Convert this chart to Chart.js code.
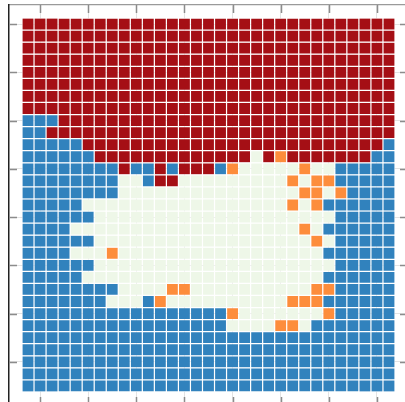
<!DOCTYPE html>
<html>
<head>
<meta charset="utf-8">
<script src="https://cdn.jsdelivr.net/npm/chart.js@4/dist/chart.umd.min.js"></script>
<style>
  html, body { margin: 0; padding: 0; background: #fff; overflow: hidden; }
  canvas { display: block; }
</style>
</head>
<body>
<canvas id="grid-chart" width="410" height="407"></canvas>
<script>
// cell colours, one string per row (top to bottom), one letter per column
const rows = [
  "RRRRRRRRRRRRRRRRRRRRRRRRRRRRRRR",
  "RRRRRRRRRRRRRRRRRRRRRRRRRRRRRRR",
  "RRRRRRRRRRRRRRRRRRRRRRRRRRRRRRR",
  "RRRRRRRRRRRRRRRRRRRRRRRRRRRRRRR",
  "RRRRRRRRRRRRRRRRRRRRRRRRRRRRRRR",
  "RRRRRRRRRRRRRRRRRRRRRRRRRRRRRRR",
  "RRRRRRRRRRRRRRRRRRRRRRRRRRRRRRR",
  "RRRRRRRRRRRRRRRRRRRRRRRRRRRRRRR",
  "BBBRRRRRRRRRRRRRRRRRRRRRRRRRRRR",
  "BBRRRRRRRRRRRRRRRRRRRRRRRRRRRRR",
  "BBBBBRRRRRRRRRRRRRRRRRRRRRRRRRB",
  "BBBBBBRRRRRRRRRRRRRGRORRRRRRRBB",
  "BBBBBBBBRBBRBRRRBOGGGGGOGGBBBBB",
  "BBBBBBBBGGBRRGGGGGGGGGOGOOBBBBB",
  "BBBBBBBBGGGGGGGGGGGGGGGOOGOBBBB",
  "BBBBBGGGGGGGGGGGGGGGGGOGOBBBBBB",
  "BBBBBBGGGGGGGGGGGGGGGGGGGGBBBBB",
  "BBBBGGGGGGGGGGGGGGGGGGGOGBBBBBB",
  "BBBBBBGGGGGGGGGGGGGGGGGGOGBBBBB",
  "BBBBGGGOGGGGGGGGGGGGGGGGGBBBBBB",
  "BBBBBBGGGGGGGGGGGGGGGGGGGGBBBBB",
  "BBBBBGGGGGGGGGGGGGGGGGGGGBBBBBB",
  "BBBBBBBBGGGGOOGGGGGGGGGGOOBBBBB",
  "BBBBBBBGGGBOGGGGGGGGGGOOOBBBBBB",
  "BBBBBBBBBBBBBBBBBOGGGGGGGOBBBBB",
  "BBBBBBBBBBBBBBBBBGGGGOOGBBBBBBB",
  "BBBBBBBBBBBBBBBBBBBBBBBBBBBBBBB",
  "BBBBBBBBBBBBBBBBBBBBBBBBBBBBBBB",
  "BBBBBBBBBBBBBBBBBBBBBBBBBBBBBBB",
  "BBBBBBBBBBBBBBBBBBBBBBBBBBBBBBB",
  "BBBBBBBBBBBBBBBBBBBBBBBBBBBBBBB"
];
const columns = [0,1,2,3,4,5,6,7,8,9,10,11,12,13,14,15,16,17,18,19,20,21,22,23,24,25,26,27,28,29,30];
const xTicks = [1.5, 5.5, 9.5, 13.5, 17.5, 21.5, 25.5, 29.5];
const yTicks = [0.5, 4.5, 8.5, 12.5, 16.5, 20.5, 24.5, 28.5];
const palette = { R: '#a50f15', B: '#3182bd', G: '#eef7e8', O: '#fd8d3c' };

rows.forEach((r, i) => {
    if (r.length !== columns.length) throw new Error('row ' + i + ' has ' + r.length + ' cells');
});

// ticks point inward from every edge of the plot box
const innerTicks = {
    id: 'innerTicks',
    afterDraw(chart) {
        const { ctx, chartArea: a, scales: { x, y } } = chart;
        const len = 8;
        ctx.save();
        ctx.strokeStyle = '#8c8c8c';
        ctx.lineWidth = 1.5;
        ctx.beginPath();
        x.ticks.forEach(t => {
            const px = Math.round(x.getPixelForValue(t.value)) + 0.5;
            ctx.moveTo(px, a.top); ctx.lineTo(px, a.top + len);
            ctx.moveTo(px, a.bottom); ctx.lineTo(px, a.bottom - len);
        });
        y.ticks.forEach(t => {
            const py = Math.round(y.getPixelForValue(t.value)) + 0.5;
            ctx.moveTo(a.left, py); ctx.lineTo(a.left + len, py);
            ctx.moveTo(a.right, py); ctx.lineTo(a.right - len, py);
        });
        ctx.stroke();
        ctx.restore();
    }
};

function scaleOptions(tickVals, extra) {
    return Object.assign({
        type: 'linear',
        min: -1.08,
        max: 32.08,
        offset: false,
        afterBuildTicks: scale => { scale.ticks = tickVals.map(v => ({ value: v })); },
        ticks: { display: false },
        grid: { color: 'rgba(185,185,185,0.4)', lineWidth: 1, drawTicks: false, offset: false },
        z: 1
    }, extra);
}

const ctx = document.getElementById('grid-chart').getContext('2d');
new Chart(ctx, {
    type: 'bar',
    data: {
        labels: columns.map(c => c + 0.5),
        datasets: rows.map((r, i) => ({
            data: columns.map(() => [i, i + 1]),
            backgroundColor: r.split('').map(ch => palette[ch]),
            borderColor: '#ffffff',
            borderWidth: 0.6,
            borderSkipped: false,
            inflateAmount: 0,
            grouped: false,
            barPercentage: 1,
            categoryPercentage: 1
        }))
    },
    options: {
        responsive: false,
        animation: false,
        layout: { padding: { left: 9, top: 5, right: 2, bottom: 2 } },
        plugins: { legend: { display: false }, tooltip: { enabled: false } },
        scales: {
            x: scaleOptions(xTicks, { position: 'top', border: { color: '#9a9a9a', width: 1.3 } }),
            y: scaleOptions(yTicks, { reverse: true, border: { color: '#222222', width: 1.5 } })
        }
    },
    plugins: [innerTicks]
});
</script>
</body>
</html>
